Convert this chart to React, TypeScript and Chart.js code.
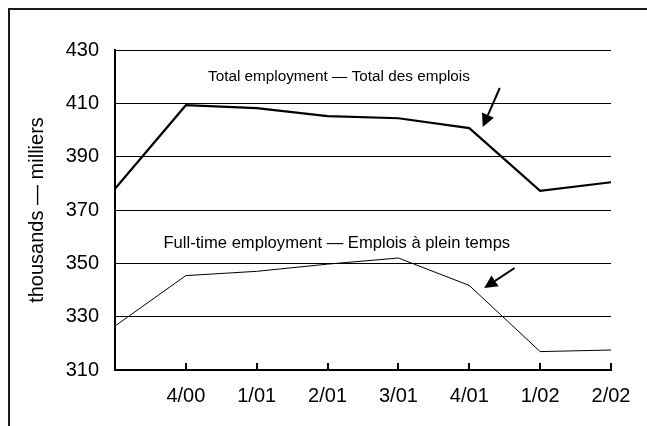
import React, { useEffect, useRef } from "react";
import { Chart, registerables } from "chart.js";

Chart.register(...registerables);

const categories = ["", "4/00", "1/01", "2/01", "3/01", "4/01", "1/02", "2/02"];
const totalEmployment = [378, 409.3, 408.2, 405.2, 404.4, 400.7, 377.2, 380.4];
const fullTimeEmployment = [326.5, 345.4, 347, 349.7, 352, 341.7, 316.9, 317.5];
const yMin = 310;
const yMax = 430;
const yStep = 20;
const yTitle = "thousands — milliers";
const totalLabel = "Total employment — Total des emplois";
const fullTimeLabel = "Full-time employment — Emplois à plein temps";

const FONT = '"Liberation Sans", Arial, sans-serif';

const annotationPlugin = {
  id: "annots",
  afterDatasetsDraw(chart: any) {
    const { ctx, scales, chartArea } = chart;
    const x = scales.x;
    const y = scales.y;
    ctx.save();
    // inward tick marks on x axis
    ctx.strokeStyle = "#000";
    ctx.lineWidth = 2;
    for (let i = 1; i < categories.length; i++) {
      const px = Math.round(x.getPixelForValue(i));
      ctx.beginPath();
      ctx.moveTo(px, chartArea.bottom);
      ctx.lineTo(px, chartArea.bottom - 7);
      ctx.stroke();
    }
    // labels
    ctx.fillStyle = "#000";
    ctx.textAlign = "center";
    ctx.textBaseline = "middle";
    ctx.font = "15.3px " + FONT;
    ctx.fillText(totalLabel, x.getPixelForValue(3.16), y.getPixelForValue(419.9));
    ctx.font = "16.6px " + FONT;
    ctx.fillText(fullTimeLabel, x.getPixelForValue(3.13), y.getPixelForValue(357.3));
    // arrows
    const arrow = (x0: number, y0: number, x1: number, y1: number) => {
      const ang = Math.atan2(y1 - y0, x1 - x0);
      const headLen = 13;
      const headW = 6.5;
      const bx = x1 - headLen * Math.cos(ang);
      const by = y1 - headLen * Math.sin(ang);
      ctx.lineWidth = 2;
      ctx.beginPath();
      ctx.moveTo(x0, y0);
      ctx.lineTo(bx, by);
      ctx.stroke();
      ctx.beginPath();
      ctx.moveTo(x1, y1);
      ctx.lineTo(bx + headW * Math.sin(ang), by - headW * Math.cos(ang));
      ctx.lineTo(bx - headW * Math.sin(ang), by + headW * Math.cos(ang));
      ctx.closePath();
      ctx.fill();
    };
    arrow(
      x.getPixelForValue(5.43), y.getPixelForValue(415.75),
      x.getPixelForValue(5.19), y.getPixelForValue(401.1)
    );
    arrow(
      x.getPixelForValue(5.64), y.getPixelForValue(348.25),
      x.getPixelForValue(5.21), y.getPixelForValue(340.75)
    );
    ctx.restore();
  },
};

export default function App() {
  const ref = useRef<HTMLCanvasElement>(null);
  useEffect(() => {
    if (!ref.current) return;
    const chart = new Chart(ref.current, {
      type: "line",
      data: {
        labels: categories,
        datasets: [
          {
            label: "Total",
            data: totalEmployment,
            borderColor: "#000",
            borderWidth: 2.2,
            pointRadius: 0,
            tension: 0,
          },
          {
            label: "Full-time",
            data: fullTimeEmployment,
            borderColor: "#000",
            borderWidth: 1,
            pointRadius: 0,
            tension: 0,
          },
        ],
      },
      options: {
        animation: false,
        responsive: false,
        maintainAspectRatio: false,
        layout: { padding: { left: 0, right: 36, top: 50, bottom: 0 } },
        plugins: { legend: { display: false }, tooltip: { enabled: false } },
        scales: {
          x: {
            type: "category",
            offset: false,
            grid: { display: true, drawOnChartArea: false, drawTicks: false },
            border: { display: true, color: "#000", width: 2 },
            ticks: {
              color: "#000",
              font: { family: FONT, size: 20 },
              padding: 14,
              maxRotation: 0,
              autoSkip: false,
            },
            afterFit: (s: any) => {
              s.height = 56;
            },
          },
          y: {
            min: yMin,
            max: yMax,
            grid: { color: "#000", lineWidth: 1, drawTicks: false },
            border: { display: true, color: "#000", width: 2 },
            ticks: {
              stepSize: yStep,
              color: "#000",
              font: { family: FONT, size: 20 },
              padding: 16,
            },
            title: {
              display: true,
              text: yTitle,
              color: "#000",
              font: { family: FONT, size: 20 },
              padding: { top: 25, bottom: 0 },
            },
            afterFit: (s: any) => {
              s.width = 115;
            },
          },
        },
      },
      plugins: [annotationPlugin],
    });
    return () => chart.destroy();
  }, []);

  return (
    <div
      style={{
        position: "absolute",
        left: 0,
        top: 0,
        width: 647,
        height: 426,
        overflow: "hidden",
        background: "#fff",
      }}
    >
      <div
        style={{
          position: "absolute",
          left: 8,
          top: 8,
          width: 700,
          height: 500,
          borderLeft: "2px solid #1a1a1a",
          borderTop: "2px solid #1a1a1a",
        }}
      />
      <canvas
        ref={ref}
        width={647}
        height={426}
        style={{ position: "absolute", left: 0, top: 0, width: 647, height: 426 }}
      />
    </div>
  );
}
